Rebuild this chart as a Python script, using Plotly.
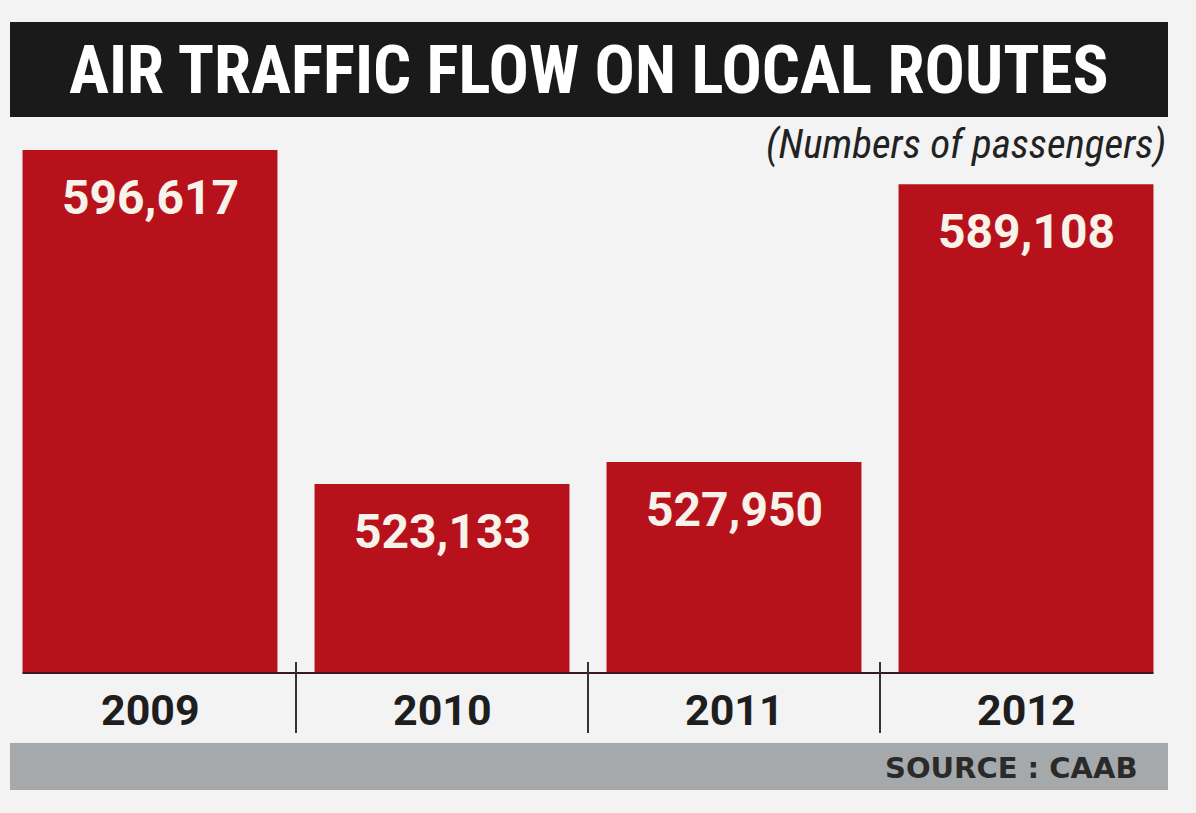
import plotly.graph_objects as go

years = ["2009", "2010", "2011", "2012"]
passengers = [596617, 523133, 527950, 589108]
title_text = "AIR TRAFFIC FLOW ON LOCAL ROUTES"
subtitle_text = "(Numbers of passengers)"
source_text = "SOURCE : CAAB"

W, H = 1196, 813
L, R, T, B = 4, 24, 140, 140
PW = W - L - R
PH = H - T - B

def px_x(px):
    return (px - L) / PW

def px_y(py):
    return (H - B - py) / PH

BAR = "#b7121b"
BG = "#f3f3f3"
COND = "Liberation Sans Narrow, Arial Narrow, Roboto Condensed, sans-serif"

fig = go.Figure()
fig.add_trace(go.Bar(
    x=list(range(len(years))), y=passengers,
    marker=dict(color=BAR, line=dict(width=0)),
    width=0.873, hoverinfo="skip",
))

annotations = []
for i, (yr, v) in enumerate(zip(years, passengers)):
    annotations.append(dict(
        x=i, y=v, xref="x", yref="y", text=f"<b>{v:,}</b>", showarrow=False,
        yanchor="middle", yshift=-47,
        font=dict(family="Roboto, sans-serif", size=48, color="#f7f2ea"),
    ))
    annotations.append(dict(
        x=i, y=px_y(710), xref="x", yref="paper", text=f"<b>{yr}</b>", showarrow=False,
        yanchor="middle",
        font=dict(family="Roboto, sans-serif", size=43, color="#1e1e1e"),
    ))

annotations.append(dict(
    x=px_x(589), y=px_y(70), xref="paper", yref="paper", text=f"<b>{title_text}</b>",
    showarrow=False, xanchor="center", yanchor="middle",
    font=dict(family=COND, size=67, color="#ffffff"),
))
annotations.append(dict(
    x=px_x(1168), y=px_y(144), xref="paper", yref="paper", text=f"<i>{subtitle_text}</i>",
    showarrow=False, xanchor="right", yanchor="middle",
    font=dict(family=COND, size=41, color="#222222"),
))
annotations.append(dict(
    x=px_x(1140), y=px_y(768), xref="paper", yref="paper", text=f"<b>{source_text}</b>",
    showarrow=False, xanchor="right", yanchor="middle",
    font=dict(family="DejaVu Sans, sans-serif", size=29, color="#2a2a2a"),
))

shapes = [
    dict(type="rect", xref="paper", yref="paper", x0=px_x(10), x1=px_x(1168),
         y0=px_y(117), y1=px_y(22), fillcolor="#1a1a1a", line=dict(width=0), layer="below"),
    dict(type="rect", xref="paper", yref="paper", x0=px_x(10), x1=px_x(1168),
         y0=px_y(790), y1=px_y(743), fillcolor="#a6a9ab", line=dict(width=0), layer="below"),
    dict(type="line", xref="x", yref="paper", x0=-0.4365, x1=3.4365, y0=0, y1=0,
         line=dict(color="#3a1a1a", width=2)),
]
for i in range(len(years) - 1):
    shapes.append(dict(type="line", xref="x", yref="paper", x0=i + 0.5, x1=i + 0.5,
                       y0=px_y(662), y1=px_y(733), line=dict(color="#333333", width=2)))

ymax = 598817
ymin = 481553
fig.update_layout(
    width=W, height=H,
    margin=dict(l=L, r=R, t=T, b=B, pad=0),
    paper_bgcolor=BG, plot_bgcolor=BG,
    showlegend=False,
    xaxis=dict(range=[-0.5, 3.5], visible=False, fixedrange=True),
    yaxis=dict(range=[ymin, ymax], visible=False, fixedrange=True),
    annotations=annotations, shapes=shapes,
)

fig.write_html("out.html", config={"displayModeBar": False})
